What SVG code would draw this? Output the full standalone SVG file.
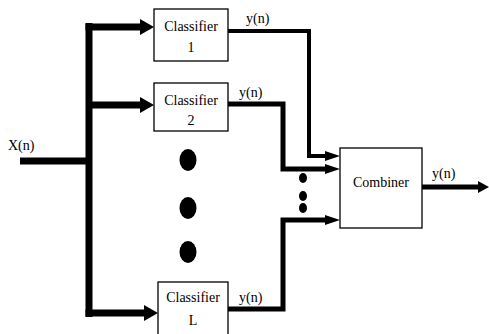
<svg xmlns="http://www.w3.org/2000/svg" width="489" height="334" viewBox="0 0 489 334" font-family="Liberation Serif, serif">
<style>
.box{fill:#fff;stroke:#000;stroke-width:1.3}
.t{font-family:Liberation Serif,serif;font-size:14px;fill:#000}
.c{text-anchor:middle}
.thick{fill:none;stroke:#000;stroke-width:7}
.med{fill:none;stroke:#000;stroke-width:5}
.thin{fill:none;stroke:#000;stroke-width:4}
</style>
<defs>
<marker id="bigHead" markerUnits="userSpaceOnUse" markerWidth="16" markerHeight="18" refX="0" refY="8" orient="auto" overflow="visible">
<path d="M0,0 L14,8 L0,16 z" fill="#000"/>
</marker>
<marker id="smallHead" markerUnits="userSpaceOnUse" markerWidth="16" markerHeight="12" refX="0" refY="5" orient="auto" overflow="visible">
<path d="M0,0 L15,5 L0,10 z" fill="#000"/>
</marker>
<marker id="outHead" markerUnits="userSpaceOnUse" markerWidth="12" markerHeight="14" refX="0" refY="6" orient="auto" overflow="visible">
<path d="M0,0 L11,6 L0,12 z" fill="#000"/>
</marker>
</defs>

<g id="connectors">
<path class="thick" d="M20,161 H89"/>
<path class="thick" d="M89,23 V317"/>
<path class="thick" d="M85.5,27 H140" marker-end="url(#bigHead)"/>
<path class="thick" d="M89,105 H140" marker-end="url(#bigHead)"/>
<path class="thick" d="M85.5,313 H144" marker-end="url(#bigHead)"/>
<path class="thin" d="M228,31 H309 V156 H325" marker-end="url(#smallHead)"/>
<path class="med" d="M228,104 H283 V169 H325" marker-end="url(#smallHead)"/>
<path class="med" d="M228,309 H283 V220 H325" marker-end="url(#smallHead)"/>
<path class="med" d="M422,187 H478" marker-end="url(#outHead)"/>
</g>

<g id="dots-large">
<ellipse cx="188" cy="160" rx="8.5" ry="11" fill="#000"/>
<ellipse cx="188" cy="208" rx="8.5" ry="11" fill="#000"/>
<ellipse cx="188" cy="252" rx="8.5" ry="11" fill="#000"/>
</g>
<g id="dots-small">
<ellipse cx="303" cy="178" rx="4" ry="5" fill="#000"/>
<ellipse cx="303" cy="196" rx="4" ry="5" fill="#000"/>
<ellipse cx="303" cy="208" rx="4" ry="5" fill="#000"/>
</g>

<g id="input">
<text class="t" x="8" y="150">X(n)</text>
</g>

<g id="classifier1">
<rect class="box" x="154" y="9" width="74" height="52"/>
<text class="t c" x="191" y="31">Classifier</text>
<text class="t c" x="191" y="52">1</text>
</g>
<g id="classifier2">
<rect class="box" x="154" y="83" width="74" height="48"/>
<text class="t c" x="191" y="105">Classifier</text>
<text class="t c" x="191" y="125">2</text>
</g>
<g id="classifierL">
<rect class="box" x="158" y="282" width="70" height="56"/>
<text class="t c" x="193" y="302">Classifier</text>
<text class="t c" x="193" y="325">L</text>
</g>
<g id="combiner">
<rect class="box" x="340" y="148" width="82" height="80"/>
<text class="t c" x="381" y="187">Combiner</text>
</g>

<g id="labels">
<text class="t" x="246" y="23">y(n)</text>
<text class="t" x="239" y="97">y(n)</text>
<text class="t" x="239" y="302">y(n)</text>
<text class="t" x="432" y="178">y(n)</text>
</g>
</svg>
